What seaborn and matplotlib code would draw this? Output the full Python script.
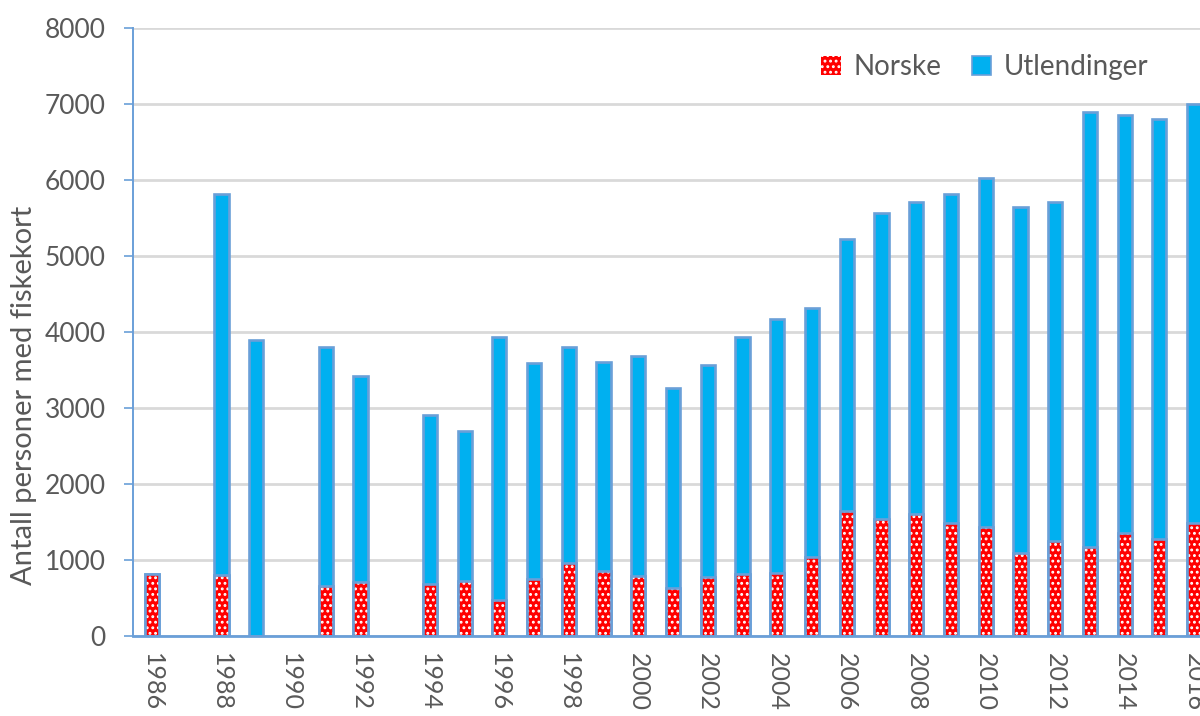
import numpy as np
import pandas as pd
import matplotlib
matplotlib.use("Agg")
import matplotlib.pyplot as plt
import seaborn as sns
from matplotlib.patches import Patch

# Antall personer med fiskekort per år, fordelt på norske og utlendinger
years = list(range(1986, 2017))
norske = [810, np.nan, 800, np.nan, np.nan, 660, 710, np.nan, 680, 720,
          480, 750, 960, 850, 790, 630, 770, 810, 830, 1040,
          1640, 1540, 1600, 1490, 1440, 1090, 1250, 1170, 1350, 1270, 1490]
utlendinger = [np.nan, np.nan, 5020, 3900, np.nan, 3140, 2710, np.nan, 2230, 1980,
               3450, 2840, 2840, 2760, 2900, 2630, 2800, 3130, 3340, 3270,
               3580, 4030, 4110, 4320, 4590, 4550, 4460, 5730, 5510, 5530, 5510]
y_ticks = [0, 1000, 2000, 3000, 4000, 5000, 6000, 7000, 8000]

labels = [str(y) for y in years]
df = pd.DataFrame({"aar": labels, "norske": norske, "utlendinger": utlendinger})
df["total"] = df[["norske", "utlendinger"]].sum(axis=1, min_count=1)

TEXT = "#595959"
BLUE = "#00B0F0"
EDGE = "#6A9FD8"
RED = "#FF0000"
GRID = "#D9D9D9"

sns.set_style("white")
plt.rcParams["font.family"] = ["Lato", "DejaVu Sans"]
plt.rcParams["hatch.linewidth"] = 1.3

fig = plt.figure(figsize=(12, 7.16), dpi=100)
ax = fig.add_axes([133 / 1200, 1 - 636 / 716, 1 - 133 / 1200, (636 - 28) / 716])

bar_w = 0.41
# full stack height (blue), then the Norwegian part on top of it (red, dotted)
sns.barplot(data=df, x="aar", y="total", order=labels, color=BLUE, saturation=1,
            width=bar_w, edgecolor=EDGE, linewidth=1.9, ax=ax, zorder=3)
sns.barplot(data=df, x="aar", y="norske", order=labels, color=RED, saturation=1,
            width=bar_w, edgecolor="white", linewidth=0, hatch="...", ax=ax, zorder=4)
sns.barplot(data=df, x="aar", y="norske", order=labels, color=EDGE, saturation=1,
            fill=False, width=bar_w, linewidth=1.9, ax=ax, zorder=5)

ax.set_ylim(0, 8000)
ax.set_xlim(-0.547, 30.17)
ax.set_yticks(y_ticks)
ax.set_yticklabels([str(v) for v in y_ticks])
ax.set_xticks(range(0, len(years), 2))
ax.set_xticklabels(labels[::2], rotation=-90, ha="center", va="top")

ax.yaxis.grid(True, color=GRID, linewidth=2, zorder=0)
ax.xaxis.grid(False)
ax.set_axisbelow(True)

for s in ["top", "right"]:
    ax.spines[s].set_visible(False)
for s in ["left", "bottom"]:
    ax.spines[s].set_color(EDGE)
    ax.spines[s].set_zorder(6)
ax.spines["left"].set_linewidth(1.4)
ax.spines["bottom"].set_linewidth(2.0)

ax.tick_params(axis="y", which="major", left=True, length=6.5, width=1.2, color=EDGE,
               direction="out", pad=13, labelsize=19, labelcolor=TEXT)
ax.tick_params(axis="x", which="major", bottom=False, length=0, pad=12,
               labelsize=18, labelcolor=TEXT)

ax.set_xlabel("")
ax.set_ylabel("Antall personer med fiskekort", fontsize=21, color=TEXT)
ax.yaxis.set_label_coords(-0.090, 0.395)

handles = [
    Patch(facecolor=RED, edgecolor="white", hatch="...", linewidth=0, label="Norske"),
    Patch(facecolor=BLUE, edgecolor=EDGE, linewidth=1.2, label="Utlendinger"),
]
leg = ax.legend(handles=handles, loc="center", bbox_to_anchor=(985 / 1200, 1 - 67 / 716),
                bbox_transform=fig.transFigure, ncol=2, frameon=False, fontsize=20,
                handlelength=0.7, handleheight=0.7, handletextpad=0.45, columnspacing=1.1)
for t in leg.get_texts():
    t.set_color(TEXT)

fig.savefig("out.png", dpi=100)
